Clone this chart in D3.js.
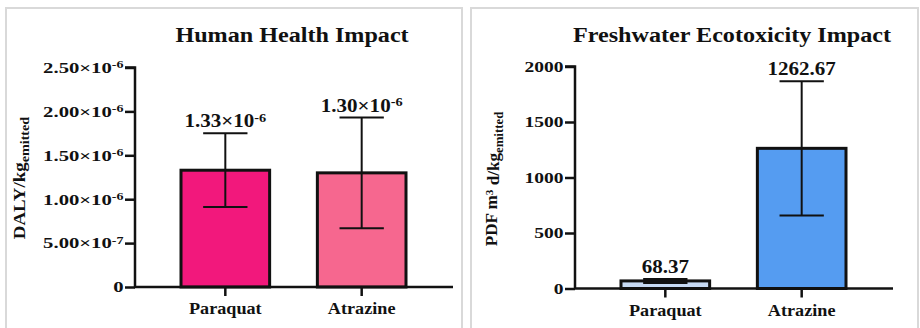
<!DOCTYPE html>
<html>
<head>
<meta charset="utf-8">
<script src="https://cdn.jsdelivr.net/npm/d3@7"></script>
<style>
  body { margin: 0; background: #fff; }
  svg text { font-family: "Liberation Serif", "Times New Roman", serif; font-weight: bold; fill: #111; }
</style>
</head>
<body>
<div class="grafico"></div>
<script>
// data
const categories = ["Paraquat", "Atrazine"];

const healthMeans = [1.33e-6, 1.30e-6];
const healthSD = [0.42e-6, 0.63e-6];
const healthTicks = [0, 5e-7, 1e-6, 1.5e-6, 2e-6, 2.5e-6];
const healthColors = ["#f2187c", "#f6678f"];

const ecoMeans = [68.37, 1262.67];
const ecoSD = [18, 605];
const ecoTicks = [0, 500, 1000, 1500, 2000];
const ecoColors = ["#c7daf4", "#559cf1"];

const width = 920, height = 328;

let svg = d3.select(".grafico")
  .append("svg")
  .attr("width", width)
  .attr("height", height);

// text is a bit wide in the original, so it gets stretched horizontally
function stext(parent, x, y, sx, size, rot) {
  let g = parent.append("g")
    .attr("transform", "translate(" + x + "," + y + ")" + (rot ? " rotate(" + rot + ")" : "") + " scale(" + sx + ",1)");
  return g.append("text").attr("font-size", size).attr("text-anchor", "middle");
}

// writes "m×10^e" into a text node, or plain text
function sciText(sel, v, digits, sci) {
  sel.text(null);
  if (!sci || v === 0) {
    sel.append("tspan").text(v === 0 ? "0" : v.toFixed(digits));
    return;
  }
  let e = Math.floor(Math.log10(v) + 1e-9);
  let m = v / Math.pow(10, e);
  sel.append("tspan").text(m.toFixed(digits) + "×10");
  sel.append("tspan").attr("dy", "-0.45em").attr("font-size", "0.68em").text(e);
}

function drawPanel(p) {
  // panel frame
  svg.append("rect")
    .attr("x", p.frame[0]).attr("y", p.frame[1])
    .attr("width", p.frame[2]).attr("height", p.frame[3])
    .attr("fill", "none").attr("stroke", "#d9d9d9").attr("stroke-width", 2);

  const x = d3.scaleBand()
    .domain(categories)
    .range(p.barRange)
    .paddingInner(0.35)
    .paddingOuter(0);

  const y = d3.scaleLinear()
    .domain([0, p.yMax])
    .range([p.y0, p.yTop]);

  let g = svg.append("g");

  // bars
  g.selectAll("rect.bar")
    .data(p.means)
    .enter().append("rect")
    .attr("class", "bar")
    .attr("x", (d, i) => x(categories[i]))
    .attr("y", d => y(d))
    .attr("width", x.bandwidth())
    .attr("height", d => y(0) - y(d))
    .attr("fill", (d, i) => p.colors[i])
    .attr("stroke", "#111")
    .attr("stroke-width", 3);

  // error bars
  const cap = x.bandwidth() / 4;
  p.means.forEach((m, i) => {
    let cx = x(categories[i]) + x.bandwidth() / 2;
    let hi = m + p.sd[i], lo = Math.max(0, m - p.sd[i]);
    g.append("line").attr("x1", cx).attr("x2", cx)
      .attr("y1", y(hi)).attr("y2", y(lo))
      .attr("stroke", "#111").attr("stroke-width", 2);
    [hi, lo].forEach(v => {
      g.append("line").attr("x1", cx - cap).attr("x2", cx + cap)
        .attr("y1", y(v)).attr("y2", y(v))
        .attr("stroke", "#111").attr("stroke-width", 2);
    });
    // value label
    stext(g, cx, y(hi) - 6, p.valueSx, 18)
      .call(s => sciText(s, m, 2, p.sci));
  });

  // y axis
  const yAxis = d3.axisLeft(y).tickValues(p.ticks).tickSize(10).tickPadding(2);
  let ya = svg.append("g")
    .attr("transform", "translate(" + p.xAxis0 + ",0)")
    .attr("font-family", null)
    .call(yAxis);
  ya.select(".domain").attr("stroke", "#111").attr("stroke-width", 2.5)
    .attr("d", "M-10," + y(p.yMax) + "H0V" + y(0));
  ya.selectAll(".tick line").attr("stroke", "#111").attr("stroke-width", 2.5);
  ya.selectAll(".tick text")
    .attr("font-size", 15)
    .attr("fill", "#111")
    .attr("x", -11.5 / p.tickSx)
    .attr("transform", "scale(" + p.tickSx + ",1)")
    .each(function(d) { sciText(d3.select(this), d, p.tickDigits, p.sci); });

  // x axis
  svg.append("line")
    .attr("x1", p.xAxis0 - 1).attr("x2", p.xAxis1)
    .attr("y1", y(0)).attr("y2", y(0))
    .attr("stroke", "#111").attr("stroke-width", 2.5);
  categories.forEach(c => {
    let cx = x(c) + x.bandwidth() / 2;
    svg.append("line")
      .attr("x1", cx).attr("x2", cx)
      .attr("y1", y(0)).attr("y2", y(0) + 9)
      .attr("stroke", "#111").attr("stroke-width", 2.5);
    stext(svg, cx, y(0) + 27, 1.07, 17).text(c);
  });

  // title
  stext(svg, p.titleX, 42, 1.15, 21).text(p.title);

  // y title
  let yt = stext(svg, p.yTitleX, p.yTitleY, p.yTitleSx, 16, -90);
  yt.append("tspan").text(p.yTitle);
  if (p.yTitleSup) {
    yt.append("tspan").attr("dy", "-0.4em").attr("font-size", "0.65em").text(p.yTitleSup);
    yt.append("tspan").attr("dy", "0.4em").text(p.yTitle2);
  }
  yt.append("tspan").attr("dy", "0.3em").attr("font-size", "0.75em").text("emitted");
}

drawPanel({
  frame: [6, 8, 456, 330],
  title: "Human Health Impact", titleX: 292,
  yTitle: "DALY/kg", yTitleX: 25, yTitleY: 178, yTitleSx: 1.18,
  means: healthMeans, sd: healthSD, colors: healthColors,
  ticks: healthTicks, yMax: 2.5e-6, sci: true, tickDigits: 2,
  y0: 287, yTop: 67.5, xAxis0: 135, xAxis1: 453,
  barRange: [181, 406], valueSx: 1.17, tickSx: 1.38
});

drawPanel({
  frame: [471, 8, 447, 330],
  title: "Freshwater Ecotoxicity Impact", titleX: 732,
  yTitle: "PDF m", yTitleSup: "3", yTitle2: " d/kg", yTitleX: 497, yTitleY: 179, yTitleSx: 1.07,
  means: ecoMeans, sd: ecoSD, colors: ecoColors,
  ticks: ecoTicks, yMax: 2000, sci: false, tickDigits: 0,
  y0: 288.5, yTop: 66.5, xAxis0: 575, xAxis1: 893,
  barRange: [621, 846], valueSx: 1.17, tickSx: 1.3
});
</script>
</body>
</html>
